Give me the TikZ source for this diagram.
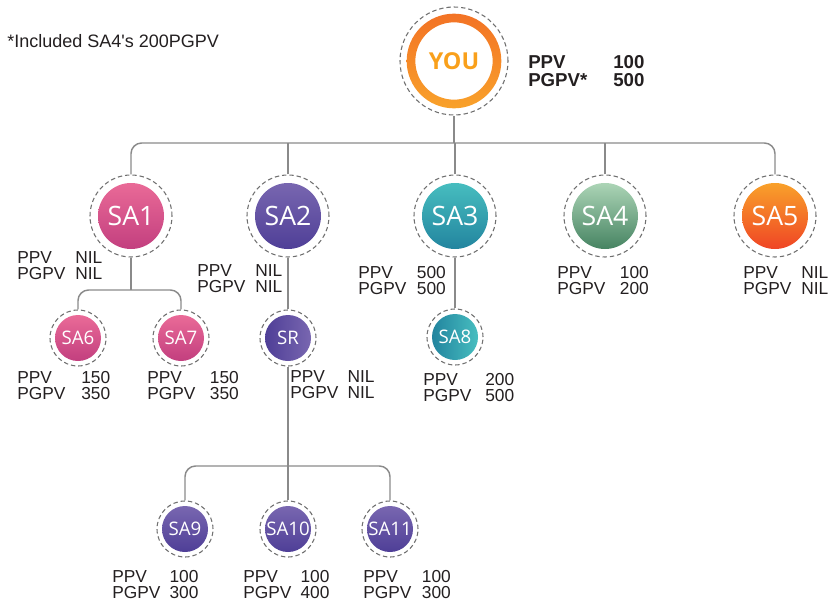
\documentclass[tikz,border=0pt]{standalone}
\usepackage{fontspec}
\setmainfont{Liberation Sans}
\newfontfamily\ballfont{Open Sans}
\usetikzlibrary{calc}
\definecolor{ink}{HTML}{231F20}
\definecolor{linkgray}{HTML}{8A8A8A}
\definecolor{halogray}{HTML}{707070}
\definecolor{pinkA}{HTML}{EE6F9A}
\definecolor{pinkB}{HTML}{BE3A7C}
\definecolor{purpA}{HTML}{7D6BB3}
\definecolor{purpB}{HTML}{4A3A94}
\definecolor{tealA}{HTML}{4BC4C3}
\definecolor{tealB}{HTML}{1E7E9B}
\definecolor{greenA}{HTML}{B8DEC0}
\definecolor{greenB}{HTML}{3A7A58}
\definecolor{orngA}{HTML}{FAAC2B}
\definecolor{orngB}{HTML}{EE3A24}
\definecolor{youA}{HTML}{F26F25}
\definecolor{youB}{HTML}{F9A52B}
\definecolor{youtext}{HTML}{F9A01B}
\tikzset{
  link/.style={draw=linkgray,line width=1.1pt},
  halo/.style={circle,draw=halogray,dash pattern=on 3.3pt off 2.2pt,line width=0.8pt,inner sep=0pt,text=white},
  big/.style={halo,minimum size=61.5pt,font=\ballfont\fontsize{20}{20}\selectfont},
  small/.style={halo,minimum size=42pt,font=\ballfont\fontsize{14}{14}\selectfont},
  vball/.style n args={3}{path picture={\shade[top color=#1,bottom color=#2] (path picture bounding box.center) circle (#3);}},
  hball/.style n args={3}{path picture={\shade[left color=#2,right color=#1] (path picture bounding box.center) circle (#3);}},
  info/.style={text=ink,inner sep=0pt,font=\fontsize{13}{12}\selectfont}
}
% PPV / PGPV pair below a member
\newcommand{\pv}[5]{\node[info,anchor=base west] (#1) at (#2) {\begin{tabular}[t]{@{}p{#3}@{}l@{}}PPV&#4\\PGPV&#5\end{tabular}};}
\begin{document}
\begin{tikzpicture}[x=0.75pt,y=-0.75pt]
\useasboundingbox (0,0) rectangle (836,603);
\node[info,anchor=base west,font=\fontsize{13.5}{13.5}\selectfont] (note) at (7,47) {*Included SA4\textquotesingle s 200PGPV};
% top
\node[halo,minimum size=81pt,text=youtext,font=\ballfont\bfseries\fontsize{17.5}{17.5}\selectfont,
  path picture={\shade[top color=youA,bottom color=youB,even odd rule] (path picture bounding box.center) circle (35.5pt) circle (29pt);}] (you) at (454,61) {YOU};
\node[info,anchor=base west,font=\bfseries\fontsize{14}{12.75}\selectfont] (youpv) at (528,68)
  {\begin{tabular}[t]{@{}p{63.75pt}@{}l@{}}PPV&100\\PGPV*&500\end{tabular}};
% first line
\node[big,vball={pinkA}{pinkB}{24.75pt}] (sa1) at (131,216) {SA1};
\node[big,vball={purpA}{purpB}{24.75pt}] (sa2) at (288,216) {SA2};
\node[big,vball={tealA}{tealB}{24.75pt}] (sa3) at (455,216) {SA3};
\node[big,vball={greenA}{greenB}{24.75pt}] (sa4) at (605,216) {SA4};
\node[big,vball={orngA}{orngB}{24.75pt}] (sa5) at (775,216) {SA5};
% second line
\node[small,vball={pinkA}{pinkB}{17.25pt}] (sa6) at (78,338) {SA6};
\node[small,vball={pinkA}{pinkB}{17.25pt}] (sa7) at (181,338) {SA7};
\node[small,hball={purpA}{purpB}{17.25pt}] (sr) at (288,338) {SR};
\node[small,hball={tealA}{tealB}{17.25pt}] (sa8) at (455,337) {SA8};
% third line
\node[small,vball={purpA}{purpB}{17.25pt}] (sa9) at (185,529) {SA9};
\node[small,vball={purpA}{purpB}{17.25pt}] (sa10) at (288,529) {SA10};
\node[small,vball={purpA}{purpB}{17.25pt}] (sa11) at (390,529) {SA11};
% links
\coordinate (bar) at (454,143);
\coordinate (fork1) at (131,290);
\coordinate (fork2) at (288,466);
\draw[link] (you.south) -- (bar);
\draw[link,rounded corners=8] (sa1.north) |- (bar) -| (sa5.north);
\foreach \n in {sa2,sa3,sa4}
  \draw[link] (\n.north) -- (\n.north |- bar);
\draw[link] (sa1.south) -- (fork1);
\draw[link,rounded corners=8] (sa6.north) |- (fork1) -| (sa7.north);
\draw[link] (sa2.south) -- (sr.north);
\draw[link] (sa3.south) -- (sa8.north);
\draw[link] (sr.south) -- (sa10.north);
\draw[link,rounded corners=8] (sa9.north) |- (fork2) -| (sa11.north);
% values
\pv{sa1pv}{17,263}{43.5pt}{NIL}{NIL}
\pv{sa2pv}{197,276}{43.5pt}{NIL}{NIL}
\pv{sa3pv}{358,278}{44pt}{500}{500}
\pv{sa4pv}{557,278}{47pt}{100}{200}
\pv{sa5pv}{743,278}{43.5pt}{NIL}{NIL}
\pv{sa6pv}{17,383}{48pt}{150}{350}
\pv{sa7pv}{147,383}{47pt}{150}{350}
\pv{srpv}{290,382}{43pt}{NIL}{NIL}
\pv{sa8pv}{423,385}{46.5pt}{200}{500}
\pv{sa9pv}{112,582}{43pt}{100}{300}
\pv{sa10pv}{243,582}{43pt}{100}{400}
\pv{sa11pv}{363,582}{44pt}{100}{300}
\end{tikzpicture}
\end{document}
